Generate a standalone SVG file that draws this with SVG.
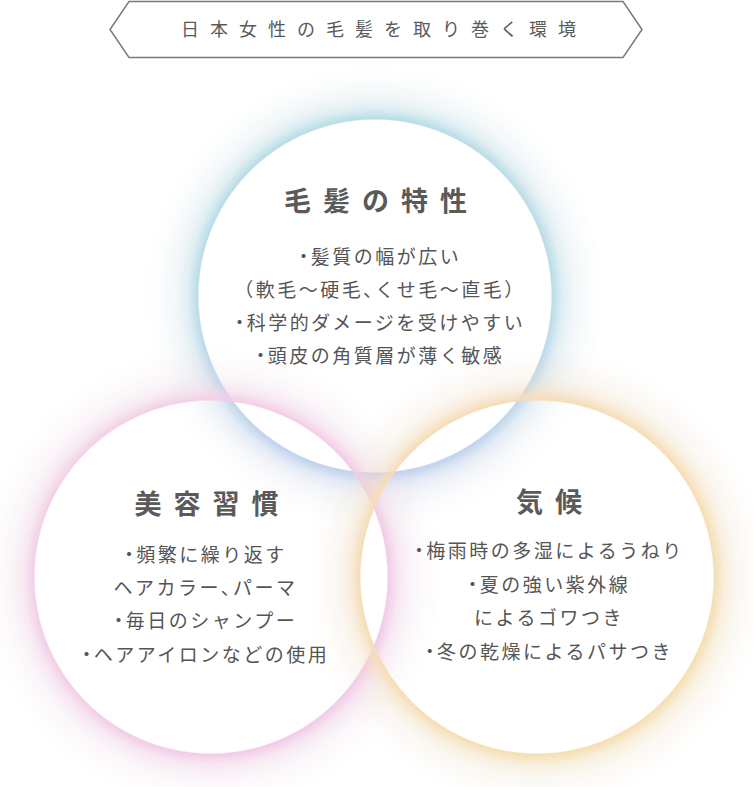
<svg xmlns="http://www.w3.org/2000/svg" width="754" height="787" viewBox="0 0 754 787">
<style>
.title{font-family:"Noto Sans CJK JP","Noto Sans",sans-serif;font-size:18px;font-weight:400;fill:#5a5a5a;letter-spacing:11px;text-anchor:middle}
.head{font-family:"Noto Sans CJK JP","Noto Sans",sans-serif;font-size:27px;font-weight:700;fill:#5a5a5a;letter-spacing:12px;text-anchor:middle}
.body{font-family:"Noto Sans CJK JP","Noto Sans",sans-serif;font-size:19px;font-weight:400;fill:#555;letter-spacing:2.5px;text-anchor:middle}
.dot{font-feature-settings:"palt"}
.banner{fill:#fff;stroke:#7a7a7a;stroke-width:1.5}
</style>
<defs>
<radialGradient id="ringA">
<stop offset="0" stop-color="#fff" stop-opacity="0"/>
<stop offset="0.758" stop-color="#fff" stop-opacity="0"/>
<stop offset="0.764" stop-color="#fff" stop-opacity="1"/>
<stop offset="0.78" stop-color="#fff" stop-opacity="0.8"/>
<stop offset="0.81" stop-color="#fff" stop-opacity="0.4"/>
<stop offset="0.86" stop-color="#fff" stop-opacity="0.15"/>
<stop offset="0.93" stop-color="#fff" stop-opacity="0.04"/>
<stop offset="1" stop-color="#fff" stop-opacity="0"/>
</radialGradient>
<radialGradient id="greyHalo">
<stop offset="0" stop-color="#e6e6e6" stop-opacity="0"/>
<stop offset="0.76" stop-color="#e6e6e6" stop-opacity="0"/>
<stop offset="0.79" stop-color="#e6e6e6" stop-opacity="0.18"/>
<stop offset="0.87" stop-color="#e6e6e6" stop-opacity="0.1"/>
<stop offset="1" stop-color="#e6e6e6" stop-opacity="0"/>
</radialGradient>
<linearGradient id="cTop" x1="0" y1="0" x2="0" y2="1">
<stop offset="0" stop-color="#b6dde6"/>
<stop offset="0.55" stop-color="#bcdce8"/>
<stop offset="1" stop-color="#c2cdf0"/>
</linearGradient>
<linearGradient id="cLeft" x1="0" y1="0" x2="1" y2="1">
<stop offset="0" stop-color="#f3d3e6"/>
<stop offset="1" stop-color="#f1c8e6"/>
</linearGradient>
<linearGradient id="cRight" x1="0" y1="0" x2="1" y2="1">
<stop offset="0" stop-color="#f5dcbc"/>
<stop offset="1" stop-color="#f5dfae"/>
</linearGradient>
<mask id="mTop" maskUnits="userSpaceOnUse" x="0" y="0" width="754" height="787"><circle cx="375" cy="296" r="232" fill="url(#ringA)"/></mask>
<mask id="mLeft" maskUnits="userSpaceOnUse" x="0" y="0" width="754" height="787"><circle cx="211" cy="577" r="232" fill="url(#ringA)"/></mask>
<mask id="mRight" maskUnits="userSpaceOnUse" x="0" y="0" width="754" height="787"><circle cx="537" cy="577" r="232" fill="url(#ringA)"/></mask>
</defs>
<rect width="754" height="787" fill="#fff"/>
<g id="title">
<polygon class="banner" points="129,1.5 623,1.5 642,29.5 623,57.5 129,57.5 110,29.5"/>
<text class="title" x="384" y="36">日本女性の毛髪を取り巻く環境</text>
</g>
<g id="halos">
<circle cx="375" cy="296" r="232" fill="url(#greyHalo)"/>
<circle cx="211" cy="577" r="232" fill="url(#greyHalo)"/>
<circle cx="537" cy="577" r="232" fill="url(#greyHalo)"/>
</g>
<g id="node-hair">
<circle cx="375" cy="296" r="232" fill="url(#cTop)" mask="url(#mTop)"/>
<text class="head" x="381.5" y="211">毛髪の特性</text>
<text class="body" x="380" y="264"><tspan class="dot">・</tspan>髪質の幅が広い</text>
<text class="body" x="380" y="297">（軟毛〜硬毛<tspan class="dot">、</tspan>くせ毛〜直毛）</text>
<text class="body" x="380" y="330"><tspan class="dot">・</tspan>科学的ダメージを受けやすい</text>
<text class="body" x="380" y="363"><tspan class="dot">・</tspan>頭皮の角質層が薄く敏感</text>
</g>
<g id="node-beauty">
<circle cx="211" cy="577" r="232" fill="url(#cLeft)" mask="url(#mLeft)"/>
<text class="head" x="212.5" y="514">美容習慣</text>
<text class="body" x="205.5" y="562"><tspan class="dot">・</tspan>頻繁に繰り返す</text>
<text class="body" x="205.5" y="595">ヘアカラー<tspan class="dot">、</tspan>パーマ</text>
<text class="body" x="205.5" y="628"><tspan class="dot">・</tspan>毎日のシャンプー</text>
<text class="body" x="205.5" y="662"><tspan class="dot">・</tspan>ヘアアイロンなどの使用</text>
</g>
<g id="node-climate">
<circle cx="537" cy="577" r="232" fill="url(#cRight)" mask="url(#mRight)"/>
<text class="head" x="555" y="512">気候</text>
<text class="body" x="549" y="558"><tspan class="dot">・</tspan>梅雨時の多湿によるうねり</text>
<text class="body" x="549" y="592"><tspan class="dot">・</tspan>夏の強い紫外線</text>
<text class="body" x="549" y="625">によるゴワつき</text>
<text class="body" x="549" y="659"><tspan class="dot">・</tspan>冬の乾燥によるパサつき</text>
</g>
<g id="connectors"></g>
</svg>
